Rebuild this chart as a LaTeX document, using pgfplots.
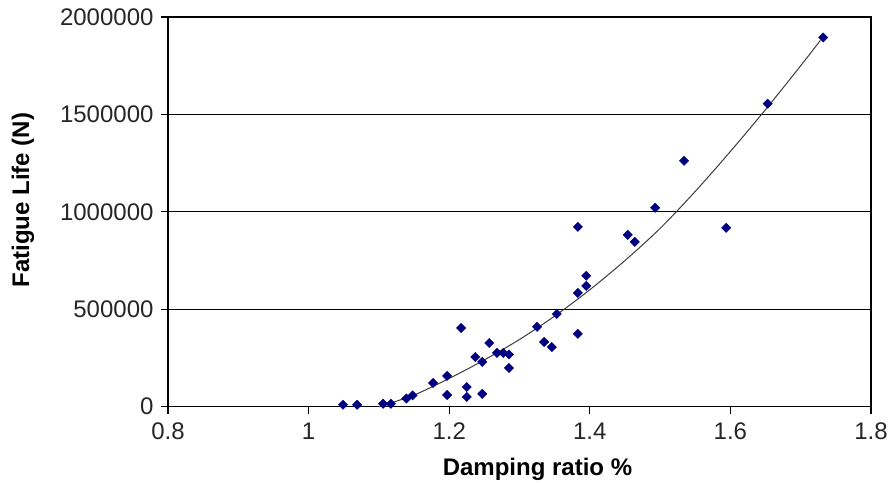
\documentclass[border=0pt]{standalone}
\usepackage{fontspec}
\setmainfont{Liberation Sans}
\usepackage{pgfplots}
\pgfplotsset{compat=1.18}
\definecolor{navy}{RGB}{0,0,128}
\definecolor{trend}{RGB}{60,60,60}
\begin{document}
\begin{tikzpicture}
\begin{axis}[
  scale only axis,
  width=703bp, height=389.7bp,
  xmin=0.8, xmax=1.8, ymin=0, ymax=2000000,
  xtick={0.8,1,1.2,1.4,1.6,1.8},
  ytick={0,500000,1000000,1500000,2000000},
  scaled y ticks=false, scaled x ticks=false,
  /pgf/number format/assume math mode=true,
  yticklabel={\pgfmathprintnumber[fixed,1000 sep={}]{\tick}},
  xticklabel={\pgfmathprintnumber[fixed,precision=1]{\tick}},
  tick align=outside,
  major tick length=7bp,
  tick style={black, line width=1.2bp},
  xtick pos=bottom, ytick pos=left,
  ymajorgrids,
  grid style={black, line width=1.2bp},
  axis line style={black, line width=1.2bp},
  tick label style={font=\fontsize{24bp}{28bp}\selectfont, text=black!85},
  xticklabel style={yshift=-6bp},
  yticklabel style={xshift=-4bp},
  xlabel={Damping ratio \%},
  ylabel={Fatigue Life (N)},
  label style={font=\fontsize{24bp}{28bp}\selectfont\bfseries},
  xlabel style={at={(axis description cs:0.5,0)}, anchor=base, yshift=-68.5bp, xshift=18bp},
  ylabel style={at={(axis description cs:0,0.53)}, anchor=center, yshift=145bp},
  clip=false,
]
\addplot[trend, line width=1bp, smooth] coordinates {
(1.10,0) (1.15,60000) (1.20,145000) (1.25,240000) (1.30,345000)
(1.35,465000) (1.40,600000) (1.45,750000) (1.50,915000) (1.55,1105000)
(1.60,1310000) (1.65,1525000) (1.70,1750000) (1.728,1880000)
};
\addplot[only marks, mark=square*, mark size=3.3bp, navy, mark options={fill=navy, draw=navy, rotate=45}] table {
x y
1.049 10000
1.069 10000
1.106 15000
1.117 15000
1.139 42000
1.148 58000
1.177 122000
1.197 60000
1.197 158000
1.217 404000
1.225 101000
1.225 50000
1.237 255000
1.247 66000
1.247 230000
1.257 327000
1.268 276000
1.277 276000
1.285 268000
1.285 199000
1.325 410000
1.335 332000
1.346 306000
1.353 476000
1.383 374000
1.383 584000
1.395 620000
1.395 672000
1.383 923000
1.454 882000
1.464 846000
1.493 1021000
1.534 1262000
1.594 918000
1.653 1555000
1.732 1895000
};
\end{axis}
\pgfresetboundingbox
\path ([xshift=-168bp,yshift=-76.3bp]current axis.south west) rectangle ([xshift=20bp,yshift=17bp]current axis.north east);
\end{tikzpicture}
\end{document}
